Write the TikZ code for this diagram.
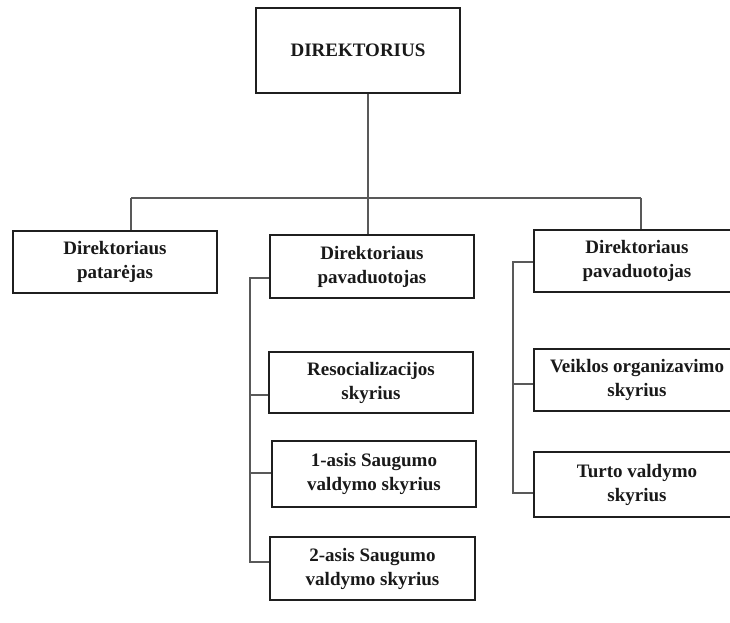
\documentclass[tikz,border=0pt]{standalone}
\usepackage{fontspec}
\setmainfont{Liberation Serif}
\begin{document}
\begin{tikzpicture}[x=1pt,y=-1pt,
  box/.style={draw=black!88,line width=2pt,fill=white,inner sep=0pt,align=center,
    font=\bfseries\fontsize{19}{24}\selectfont,text=black!90},
  conn/.style={draw=black!65,line width=1.6pt}]
\useasboundingbox (0,0) rectangle (730,623);
\clip (0,0) rectangle (730,623);
\fill[white] (0,0) rectangle (730,623);
% nodes
\node[box,minimum width=204pt,minimum height=85pt] (top) at (358,50.5) {DIREKTORIUS};
\node[box,minimum width=204pt,minimum height=62pt] (L) at (115,262) {Direktoriaus\\patarėjas};
\node[box,minimum width=204pt,minimum height=63pt] (M) at (372,266.5) {Direktoriaus\\pavaduotojas};
\node[box,minimum width=204pt,minimum height=61pt] (res) at (371,382.5) {Resocializacijos\\skyrius};
\node[box,minimum width=204pt,minimum height=66pt] (s1) at (374,474) {1-asis Saugumo\\valdymo skyrius};
\node[box,minimum width=205pt,minimum height=63pt] (s2) at (372.5,568.5) {2-asis Saugumo\\valdymo skyrius};
\node[box,minimum width=206pt,minimum height=62pt] (R) at (637,261) {Direktoriaus\\pavaduotojas};
\node[box,minimum width=206pt,minimum height=62pt] (veik) at (637,380) {Veiklos organizavimo\\skyrius};
\node[box,minimum width=206pt,minimum height=65pt] (turto) at (637,484.5) {Turto valdymo\\skyrius};
% junction coordinates
\coordinate (hl) at (131,198);
\coordinate (hm) at (368,198);
\coordinate (hr) at (641,198);
\coordinate (mb1) at (250,278);
\coordinate (mb2) at (250,395);
\coordinate (mb3) at (250,473);
\coordinate (mb4) at (250,562);
\coordinate (rb1) at (513,262);
\coordinate (rb2) at (513,384);
\coordinate (rb3) at (513,493);
% connectors
\draw[conn] (top.south -| hm) -- (hm);
\draw[conn] (hl) -- (hr);
\draw[conn] (hl) -- (hl |- L.north);
\draw[conn] (hm) -- (hm |- M.north);
\draw[conn] (hr) -- (hr |- R.north);
\draw[conn] (M.west |- mb1) -- (mb1) -- (mb4) -- (s2.west |- mb4);
\draw[conn] (mb2) -- (res.west |- mb2);
\draw[conn] (mb3) -- (s1.west |- mb3);
\draw[conn] (R.west |- rb1) -- (rb1) -- (rb3) -- (turto.west |- rb3);
\draw[conn] (rb2) -- (veik.west |- rb2);
\end{tikzpicture}
\end{document}
